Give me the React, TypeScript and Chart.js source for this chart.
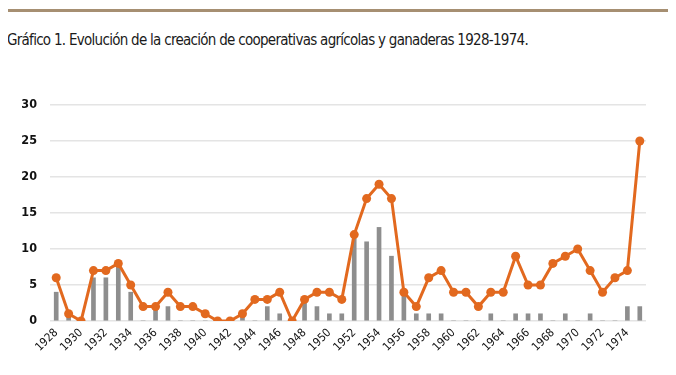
import React, { useEffect, useRef } from "react";
import { Chart, registerables } from "chart.js";

Chart.register(...registerables);

const years: string[] = [
  "1928","1929","1930","1931","1932","1933","1934","1935","1936","1937",
  "1938","1939","1940","1941","1942","1943","1944","1945","1946","1947",
  "1948","1949","1950","1951","1952","1953","1954","1955","1956","1957",
  "1958","1959","1960","1961","1962","1963","1964","1965","1966","1967",
  "1968","1969","1970","1971","1972","1973","1974","1975",
];

const barValues: number[] = [
  4, 1, 0, 6, 6, 8, 4, 0, 2, 2,
  0, 0, 0, 0, 0, 1, 0, 2, 1, 0,
  3, 2, 1, 1, 12, 11, 13, 9, 4, 1,
  1, 1, 0, 0, 0, 1, 0, 1, 1, 1,
  0, 1, 0, 1, 0, 0, 2, 2,
];

const lineValues: number[] = [
  6, 1, 0, 7, 7, 8, 5, 2, 2, 4,
  2, 2, 1, 0, 0, 1, 3, 3, 4, 0,
  3, 4, 4, 3, 12, 17, 19, 17, 4, 2,
  6, 7, 4, 4, 2, 4, 4, 9, 5, 5,
  8, 9, 10, 7, 4, 6, 7, 25,
];

const yTicks: number[] = [0, 5, 10, 15, 20, 25, 30];

const barLabel = "Ganaderas";
const lineLabel = "Agrícolas";

const ORANGE = "#E2691F";
const GREY = "#8E8E8E";
const FONT = "'DejaVu Sans', sans-serif";

export default function App() {
  const canvasRef = useRef<HTMLCanvasElement | null>(null);

  useEffect(() => {
    if (!canvasRef.current) return;
    const chart = new Chart(canvasRef.current, {
      type: "bar",
      data: {
        labels: years,
        datasets: [
          {
            type: "line",
            label: lineLabel,
            data: lineValues,
            borderColor: ORANGE,
            backgroundColor: ORANGE,
            borderWidth: 3,
            pointRadius: 4.5,
            pointBackgroundColor: ORANGE,
            pointBorderColor: ORANGE,
            pointBorderWidth: 0,
            tension: 0,
            order: 0,
          } as any,
          {
            type: "bar",
            label: barLabel,
            data: barValues,
            backgroundColor: GREY,
            barThickness: 4,
            order: 1,
          } as any,
        ],
      },
      options: {
        animation: false,
        responsive: false,
        maintainAspectRatio: false,
        layout: { padding: { left: 0, right: 30, top: 45, bottom: 9 } },
        plugins: {
          legend: { display: false },
          tooltip: { enabled: false },
          title: { display: false },
        },
        scales: {
          x: {
            grid: { display: false, drawTicks: false },
            border: { display: false },
            ticks: {
              autoSkip: false,
              minRotation: 45,
              maxRotation: 45,
              padding: 5,
              color: "#111",
              font: { family: FONT, size: 11.5, weight: "condensed" as any },
              callback: (_v: any, i: number) => (i % 2 === 0 ? years[i] : ""),
            },
            afterFit: (s: any) => {
              s.height = 40;
              s.paddingLeft = 0;
              s.paddingRight = 0;
            },
          },
          y: {
            min: 0,
            max: 30,
            afterBuildTicks: (s: any) => {
              s.ticks = yTicks.map((v) => ({ value: v }));
            },
            grid: { color: "#E4E4E4", lineWidth: 1.5, drawTicks: false },
            border: { display: false },
            ticks: {
              padding: 13,
              color: "#111",
              font: { family: FONT, size: 12.5, weight: "bold condensed" as any },
            },
            afterFit: (s: any) => {
              s.width = 50;
              s.paddingTop = 0;
              s.paddingBottom = 0;
            },
          },
        },
      },
    });
    return () => chart.destroy();
  }, []);

  return (
    <div style={{ position: "relative", width: 676, height: 375, margin: -8, overflow: "hidden", background: "#fff" }}>
      <div style={{ position: "absolute", left: 6, top: 9, width: 665, height: 2.5, background: "#A68F72" }} />
      <div
        style={{
          position: "absolute",
          left: 7,
          top: 31,
          fontFamily: FONT,
          fontStretch: "condensed",
          fontSize: 15,
          letterSpacing: -0.72,
          color: "#1a1a1a",
          whiteSpace: "nowrap",
        }}
      >
        Gráfico 1. Evolución de la creación de cooperativas agrícolas y ganaderas 1928-1974.
      </div>
      <canvas
        ref={canvasRef}
        width={676}
        height={310}
        style={{ position: "absolute", left: 0, top: 60, width: 676, height: 310 }}
      />
      <div
        style={{
          position: "absolute",
          left: 222,
          top: 369,
          fontFamily: FONT,
          fontStretch: "condensed",
          fontSize: 13,
          color: "#333",
          whiteSpace: "nowrap",
          display: "flex",
          gap: 60,
        }}
      >
        <span><span style={{ display: "inline-block", width: 10, height: 10, background: GREY, marginRight: 6 }} />{barLabel}</span>
        <span><span style={{ display: "inline-block", width: 30, height: 3, background: ORANGE, marginRight: 6, verticalAlign: "middle" }} />{lineLabel}</span>
      </div>
    </div>
  );
}
